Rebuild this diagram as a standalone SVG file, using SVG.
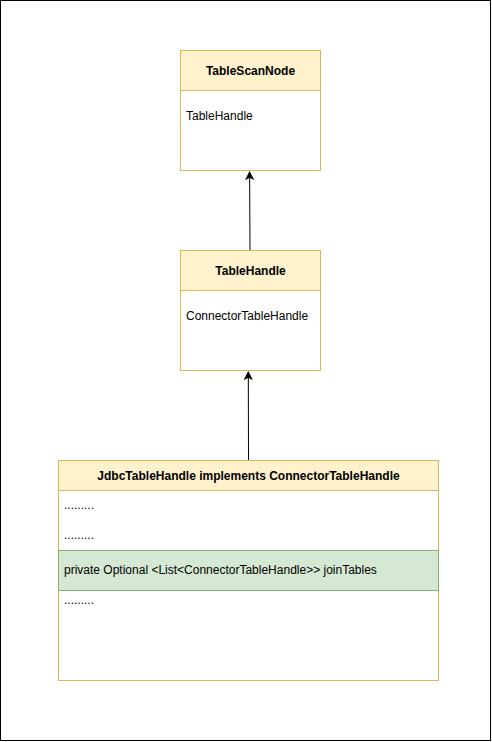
<svg xmlns="http://www.w3.org/2000/svg" width="492" height="742" viewBox="0 0 492 742">
<style>
.hdr{fill:#fff2cc;stroke:#d6b656;stroke-width:1}
.body{fill:#ffffff;stroke:#d6b656;stroke-width:1}
.row{fill:#d5e8d4;stroke:#82b366;stroke-width:1}
.t{font-family:"Liberation Sans",Arial,sans-serif;font-size:12px;fill:#000}
.b{font-weight:bold;text-anchor:middle}
.edge{stroke:#000;stroke-width:1;fill:none}
</style>
<defs>
<marker id="arr" markerWidth="10" markerHeight="10" refX="8" refY="5" orient="auto" markerUnits="userSpaceOnUse">
<path d="M1,1.5 L8,5 L1,8.5 L2.75,5 Z" fill="#000" stroke="#000" stroke-width="1"/>
</marker>
</defs>
<rect x="0.5" y="0.5" width="490" height="740" fill="#fff" stroke="#000" stroke-width="1"/>
<g id="connectors">
<path class="edge" d="M250,250 L249.6,172" marker-end="url(#arr)"/>
<path class="edge" d="M248.5,460 L248.3,372" marker-end="url(#arr)"/>
</g>
<g id="TableScanNode">
<rect class="body" x="180.5" y="50.5" width="140" height="120"/>
<rect class="hdr" x="180.5" y="50.5" width="140" height="40"/>
<text class="t b" x="250.5" y="75">TableScanNode</text>
<text class="t" x="186" y="120">TableHandle</text>
</g>
<g id="TableHandle">
<rect class="body" x="180.5" y="250.5" width="140" height="120"/>
<rect class="hdr" x="180.5" y="250.5" width="140" height="40"/>
<text class="t b" x="250.5" y="275">TableHandle</text>
<text class="t" x="186" y="320">ConnectorTableHandle</text>
</g>
<g id="JdbcTableHandle">
<rect class="body" x="58.5" y="460.5" width="380" height="220"/>
<rect class="hdr" x="58.5" y="460.5" width="380" height="30"/>
<text class="t b" x="248.5" y="480">JdbcTableHandle implements ConnectorTableHandle</text>
<text class="t" x="64" y="509">.........</text>
<text class="t" x="64" y="539">.........</text>
<rect class="row" x="58.5" y="550.5" width="380" height="40"/>
<text class="t" x="64" y="574">private Optional &lt;List&lt;ConnectorTableHandle&gt;&gt; joinTables</text>
<text class="t" x="64" y="604">.........</text>
</g>
</svg>
